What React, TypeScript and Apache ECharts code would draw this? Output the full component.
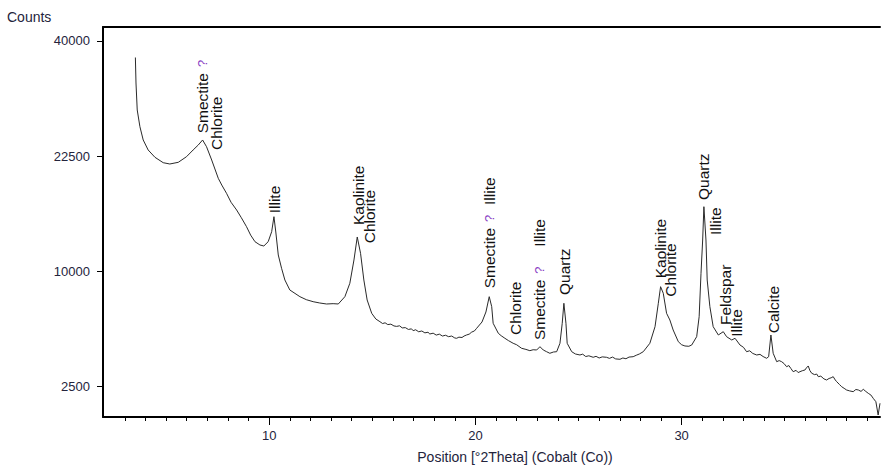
import React, { useEffect, useRef } from "react";
import * as echarts from "echarts";

// ---- scan: [position °2θ, counts] ----
const scanLowAngle: [number, number][] = [
  [3.51, 37180], [3.54, 33036], [3.6, 28914], [3.73, 26504], [3.89, 24658], [4.13, 23314],
  [4.46, 22356], [4.86, 21662], [5.18, 21497], [5.59, 21712], [5.99, 22434], [6.31, 23314],
  [6.56, 23982], [6.77, 24658], [6.96, 23753], [7.21, 22008], [7.53, 19715], [7.7, 18900],
  [7.93, 17929], [8.15, 16900], [8.42, 16043], [8.65, 15200], [8.9, 14259], [9.1, 13400],
  [9.31, 12748], [9.55, 12428], [9.74, 12330], [9.95, 12748], [10.12, 13748], [10.23, 15314],
  [10.32, 13715], [10.44, 11479], [10.6, 10276], [10.76, 9272], [11.0, 8455],
];
const scanMid: [number, number][] = [
  [11.49, 7930], [11.8, 7700], [12.13, 7548], [12.45, 7450], [12.78, 7375], [13.1, 7400],
  [13.35, 7375], [13.67, 7930], [13.91, 8999], [14.11, 11019], [14.27, 13213], [14.43, 11636],
  [14.59, 9272], [14.75, 7676], [14.97, 6698], [15.17, 6300], [15.37, 6115], [15.5, 5990],
  [15.62, 6040], [15.75, 5920], [15.9, 5950], [16.05, 5830], [16.18, 5800], [16.32, 5840],
  [16.45, 5700], [16.6, 5720], [16.75, 5600], [16.9, 5640], [16.98, 5520], [17.1, 5580],
  [17.25, 5450], [17.4, 5500], [17.55, 5380], [17.7, 5420], [17.79, 5309], [17.95, 5360],
  [18.1, 5240], [18.25, 5300], [18.4, 5180], [18.55, 5230], [18.7, 5140], [18.85, 5180],
  [19.0, 5060], [19.09, 5041], [19.2, 5110], [19.35, 5090], [19.45, 5180], [19.57, 5246],
  [19.7, 5300], [19.82, 5430], [19.95, 5500], [20.06, 5676],
];
const scanQuartzRegion: [number, number][] = [
  [20.32, 6095], [20.51, 6791], [20.67, 7930], [20.79, 7176], [20.86, 6008], [21.11, 5354],
  [21.25, 5200], [21.43, 5041], [21.6, 4900], [21.83, 4738], [22.0, 4650], [22.24, 4444],
  [22.45, 4380], [22.64, 4306], [22.8, 4360], [22.97, 4346], [23.13, 4536], [23.29, 4346],
  [23.45, 4250], [23.61, 4159], [23.78, 4230], [23.94, 4249], [24.1, 4738], [24.21, 6008],
  [24.29, 7427], [24.39, 6008], [24.45, 4738], [24.67, 4249], [24.85, 4120], [25.07, 4064],
  [25.2, 4110], [25.35, 3980], [25.5, 4020], [25.71, 3938], [25.85, 3990], [26.0, 3900],
  [26.15, 3960], [26.36, 3938], [26.5, 3880], [26.65, 3950], [26.8, 3850], [27.01, 3830],
  [27.15, 3900], [27.3, 3860], [27.45, 3950], [27.65, 3971], [27.8, 4050], [27.95, 4120],
  [28.14, 4249],
];
const scanHighAngle: [number, number][] = [
  [28.46, 4738], [28.71, 5781], [28.87, 7427], [28.98, 8720], [29.11, 8194], [29.27, 6698],
  [29.43, 6231], [29.59, 5565], [29.84, 4833], [30.0, 4650], [30.16, 4578], [30.35, 4560],
  [30.49, 4636], [30.73, 5140], [30.85, 6459], [30.94, 9841], [31.02, 12914], [31.08, 16407],
  [31.18, 12914], [31.24, 9272], [31.37, 7176], [31.53, 5781], [31.78, 5246], [32.02, 5455],
  [32.18, 5140], [32.43, 4936], [32.59, 5041], [32.83, 4636], [33.0, 4500], [33.15, 4249],
  [33.3, 4300], [33.45, 4150], [33.64, 4064], [33.8, 4100], [33.95, 3980], [34.12, 3884],
  [34.22, 3971], [34.33, 5246], [34.44, 4159], [34.61, 3703], [34.73, 3760], [34.85, 3703],
  [34.97, 3600], [35.09, 3443], [35.2, 3500], [35.3, 3350], [35.41, 3193], [35.55, 3260],
  [35.65, 3150], [35.74, 3193], [35.85, 3240], [35.98, 3277], [36.05, 3380], [36.14, 3479],
  [36.22, 3250], [36.31, 3115], [36.45, 3050], [36.55, 3080], [36.63, 2953], [36.75, 2980],
  [36.9, 2850], [37.03, 2799], [37.15, 2870], [37.25, 2900], [37.35, 2953], [37.45, 2800],
  [37.52, 2722], [37.65, 2600], [37.76, 2500], [37.88, 2430], [38.0, 2359], [38.15, 2320],
  [38.32, 2288], [38.45, 2380], [38.57, 2359], [38.7, 2300], [38.81, 2388], [38.93, 2300],
  [39.05, 2222], [39.18, 2150], [39.29, 2022], [39.42, 1891], [39.53, 1423], [39.62, 1832],
];

const yTickCounts = [2500, 10000, 22500, 40000];
const xLabelValues = [10, 20, 30];
const xMinorTicks = [3, 4, 5, 6, 7, 8, 9, 10, 11, 12, 13, 14, 15, 16, 17, 18, 19, 20, 21, 22, 23, 24, 25, 26, 27, 28, 29, 30, 31, 32, 33, 34, 35, 36, 37, 38, 39];

// peak annotations: text, position (°2θ) and counts where the text starts
const annoTexts = ["Smectite", "Chlorite", "Illite", "Kaolinite", "Chlorite", "Smectite", "Illite", "Chlorite", "Smectite", "Illite", "Quartz", "Kaolinite", "Chlorite", "Quartz", "Illite", "Feldspar", "Illite", "Calcite"];
const annoPos = [6.77, 7.45, 10.28, 14.32, 14.88, 20.67, 20.67, 21.92, 23.09, 23.09, 24.31, 28.98, 29.47, 31.05, 31.62, 32.15, 32.67, 34.44];
const annoCounts = [25578, 23314, 15683, 14436, 12591, 8591, 16597, 5246, 4936, 12264, 8061, 9415, 7930, 17161, 13412, 5894, 5140, 5354];
const annoUncertain = [true, false, false, false, false, true, false, false, true, false, false, false, false, false, false, false, false, false];

const X_MIN = 1.94;
const X_MAX = 39.62;
const Y_MIN = 36.85;
const Y_MAX = 206.05;

const FONT = "'Liberation Sans', Arial, sans-serif";
const LABEL_COLOR = "#24243c";

export default function App() {
  const ref = useRef<HTMLDivElement>(null);

  useEffect(() => {
    if (!ref.current) return;
    const chart = echarts.init(ref.current, undefined, { renderer: "svg" });
    const scan = [...scanLowAngle, ...scanMid, ...scanQuartzRegion, ...scanHighAngle];
    const data = scan.map(([p, c]) => [p, Math.sqrt(c)]);
    const ySqrtTicks = yTickCounts.map((c) => Math.sqrt(c));

    const baseX = { type: "value", min: X_MIN, max: X_MAX, splitLine: { show: false } };

    chart.setOption({
      animation: false,
      backgroundColor: "#fff",
      grid: { left: 103, right: 1, top: 27, height: 390 },
      xAxis: [
        {
          ...baseX,
          position: "bottom",
          axisLine: { show: true, lineStyle: { color: "#000", width: 2 } },
          axisTick: { show: true, customValues: xMinorTicks, length: 4, lineStyle: { color: "#000", width: 1 } },
          axisLabel: {
            show: true,
            customValues: xLabelValues,
            margin: 12,
            fontSize: 13,
            fontFamily: FONT,
            color: LABEL_COLOR,
          },
        },
        {
          ...baseX,
          position: "bottom",
          offset: 0,
          axisLine: { show: false },
          axisTick: { show: true, customValues: xLabelValues, length: 8, lineStyle: { color: "#000", width: 1 } },
          axisLabel: { show: false },
        },
        {
          ...baseX,
          position: "top",
          offset: 0,
          axisLine: { show: true, lineStyle: { color: "#000", width: 2 } },
          axisTick: { show: false },
          axisLabel: { show: false },
        },
      ],
      yAxis: {
        type: "value",
        min: Y_MIN,
        max: Y_MAX,
        splitLine: { show: false },
        axisLine: { show: true, lineStyle: { color: "#000", width: 2 } },
        axisTick: { show: true, customValues: ySqrtTicks, length: 6, lineStyle: { color: "#000", width: 1 } },
        axisLabel: {
          show: true,
          customValues: ySqrtTicks,
          margin: 13,
          fontSize: 13,
          fontFamily: FONT,
          color: LABEL_COLOR,
          formatter: (v: number) => String(Math.round(v * v)),
        },
      },
      series: [
        {
          type: "line",
          data,
          xAxisIndex: 0,
          yAxisIndex: 0,
          showSymbol: false,
          lineStyle: { color: "#2a2a2a", width: 1 },
        },
      ],
    });

    const graphics: any[] = [
      {
        type: "text",
        x: 7,
        y: 17,
        style: { text: "Counts", fontSize: 14, fontFamily: FONT, fill: LABEL_COLOR, align: "left", verticalAlign: "middle" },
      },
      {
        type: "text",
        x: 515,
        y: 457,
        style: {
          text: "Position [°2Theta] (Cobalt (Co))",
          fontSize: 14,
          fontFamily: FONT,
          fill: LABEL_COLOR,
          align: "center",
          verticalAlign: "middle",
        },
      },
    ];

    annoTexts.forEach((t, i) => {
      const pt = chart.convertToPixel({ gridIndex: 0 }, [annoPos[i], Math.sqrt(annoCounts[i])]) as number[];
      graphics.push({
        type: "text",
        x: pt[0],
        y: pt[1],
        rotation: Math.PI / 2,
        z: 10,
        style: {
          text: annoUncertain[i] ? `{a|${t}}{q|?}` : t,
          fontSize: 15.5,
          fontFamily: FONT,
          fill: "#111",
          align: "left",
          verticalAlign: "middle",
          rich: annoUncertain[i]
            ? {
                a: { fontSize: 15.5, fontFamily: FONT, fill: "#111" },
                q: { fontSize: 13, fontFamily: FONT, fill: "#8a3fc4", padding: [0, 0, 0, 6] },
              }
            : undefined,
        },
      });
    });

    chart.setOption({ graphic: graphics });

    return () => chart.dispose();
  }, []);

  return (
    <div
      ref={ref}
      style={{ position: "absolute", left: 0, top: 0, width: 881, height: 473, background: "#fff" }}
    />
  );
}
